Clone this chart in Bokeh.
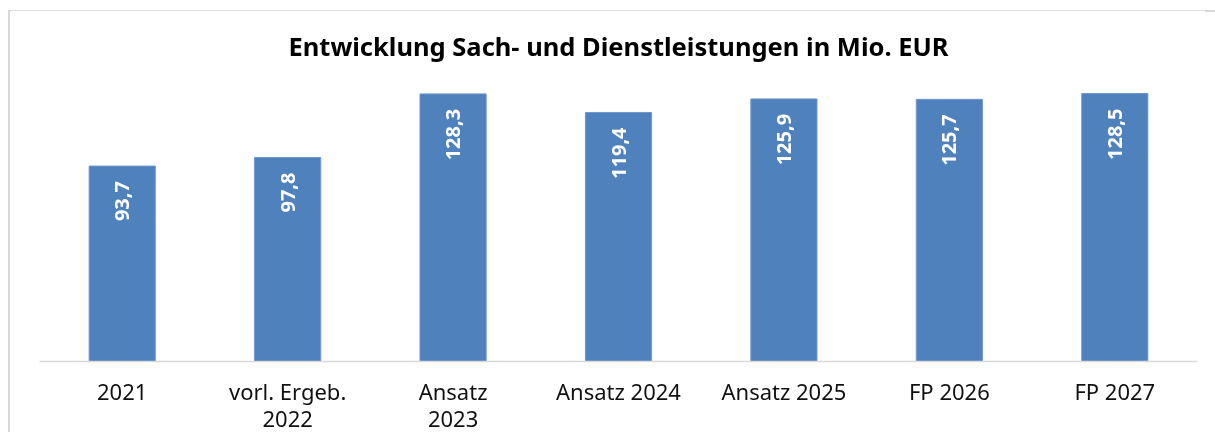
import math
from bokeh.plotting import figure
from bokeh.models import FactorRange, Range1d
from bokeh.core.properties import value
from bokeh.embed import file_html
from bokeh.resources import INLINE

categories = ["2021", "vorl. Ergeb.\n2022", "Ansatz\n2023", "Ansatz 2024", "Ansatz 2025", "FP 2026", "FP 2027"]
values = [93.7, 97.8, 128.3, 119.4, 125.9, 125.7, 128.5]
labels = [f"{v:.1f}".replace(".", ",") for v in values]
title_text = "Entwicklung Sach- und Dienstleistungen in Mio. EUR"

FONT = "Noto Sans"

p = figure(
    x_range=FactorRange(factors=categories, range_padding=0),
    y_range=Range1d(0, 140),
    frame_width=1158, frame_height=292,
    min_border_left=29, min_border_right=8, min_border_top=59, min_border_bottom=60,
    output_backend="svg", toolbar_location=None,
    title=title_text,
)
p.styles = {"margin-top": "10px", "margin-left": "10px"}
p.title.align = "center"
p.title.text_font = FONT
p.title.text_font_size = "25.5px"
p.title.text_font_style = "bold"
p.title.text_color = "#000000"
p.title.standoff = 13

p.vbar(x=categories, top=values, width=0.4, fill_color="#4f81bd", line_color="#6f98cb", line_width=1)
p.text(x=categories, y=values, text=labels, angle=math.pi / 2, text_align="right",
       text_baseline="middle", y_offset=15, text_color="white",
       text_font=value(FONT), text_font_style="bold", text_font_size="20px")

p.xgrid.visible = False
p.ygrid.visible = False
p.yaxis.visible = False
p.outline_line_color = None
p.xaxis.axis_line_color = "#d9d9d9"
p.xaxis.axis_line_width = 1.5
p.xaxis.major_tick_line_color = None
p.xaxis.minor_tick_line_color = None
p.xaxis.major_label_text_font = FONT
p.xaxis.major_label_text_font_size = "22px"
p.xaxis.major_label_text_line_height = 0.9
p.xaxis.major_label_text_color = "#111111"
p.xaxis.major_label_standoff = 8

css = ("<style>html,body{overflow:hidden !important;scrollbar-width:none;}"
       "::-webkit-scrollbar{display:none;width:0;height:0;}"
       "body::before{content:'';position:fixed;left:8px;top:10px;right:0;height:2px;background:#d9d9d9;}"
       "body::after{content:'';position:fixed;left:8px;top:10px;bottom:0;width:2px;background:#d9d9d9;}"
       "</style></head>")
html = file_html(p, INLINE)
html = html.replace("</head>", css, 1)
open("out.html", "w").write(html)
